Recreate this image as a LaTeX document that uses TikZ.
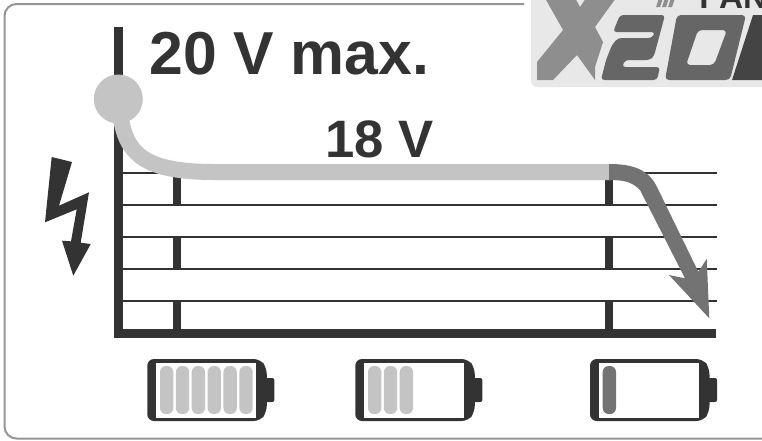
\documentclass[tikz,border=0pt]{standalone}
\usepackage{fontspec}
\setmainfont{Liberation Sans}
\definecolor{ink}{HTML}{333333}
\definecolor{lite}{HTML}{C4C4C4}
\definecolor{mid}{HTML}{737373}
\definecolor{frame}{HTML}{959595}
\definecolor{logobg}{HTML}{E8E8E8}
\definecolor{logox}{HTML}{8E8E8E}
\definecolor{logomid}{HTML}{666666}
\definecolor{logodark}{HTML}{444444}
\tikzset{
  grid line/.style={draw=ink,line width=1.9pt},
  axis line/.style={draw=ink,line width=6.6pt},
  tick line/.style={draw=ink,line width=6pt},
  big text/.style={font=\fontsize{45.5}{45.5}\selectfont\bfseries,text=ink,inner sep=0pt,anchor=base west},
}
\newcommand{\battery}[3]{%
  \begin{scope}[shift={(#1,0)}]
    \fill[ink,rounded corners=5pt] (0,359) -- (113,359) -- (119.5,368) -- (119.5,412) -- (113,421) -- (0,421) -- cycle;
    \fill[ink,rounded corners=1.5pt] (115,378) -- (127,378) -- (127,402) -- (115,402) -- cycle;
    \fill[white] (8.7,363) rectangle (108.7,418);
    \foreach \i in {1,...,#2}{
      \fill[#3,rounded corners=4.5pt] ({12.7+(\i-1)*15.87},366) rectangle ({26+(\i-1)*15.87},414);
    }
  \end{scope}}
\begin{document}
\begin{tikzpicture}[x=0.75pt,y=-0.75pt]
\useasboundingbox (0,0) rectangle (762,440);
\fill[white] (0,0) rectangle (762,440);
% frame
\draw[frame,line width=1.5pt,rounded corners=9pt] (524,4) -- (4.5,4) -- (4.5,438.5) -- (770,438.5);
% logo
\begin{scope}
  \clip (0,0) rectangle (762,440);
  \fill[logobg,rounded corners=5pt] (531,-12) rectangle (790,87);
  \fill[logox] (545,-2) -- (563,30) -- (537,62) -- (537,80) -- (553,80) -- (577,55) -- (595,80) -- (595,67) -- (603,42) -- (595,27) -- (616,-2) -- (586,-2) -- (580,7) -- (575,-2) -- cycle;
  \fill[logomid,rounded corners=2.5pt] (620,15) -- (665,15) -- (654,56) -- (650,60) -- (625,60) -- (622,67) -- (660,67) -- (657,80) -- (601,80) -- (606,60) -- (612,45) -- (618,38) -- (652,38) -- (655,32) -- (613,32) -- cycle;
  \fill[logomid,even odd rule,rounded corners=3pt] (677,15) -- (746,15) -- (730,80) -- (665,80) -- cycle (698,30) -- (727,30) -- (714,65) -- (686,65) -- cycle;
  \fill[logodark] (753,15) -- (790,15) -- (790,80) -- (732,80) -- cycle;
  \fill[logox] (659,-2) -- (663,-2) -- (660,7) -- (656,7) -- cycle (665,-2) -- (669,-2) -- (666,7) -- (662,7) -- cycle (671,-2) -- (675,-2) -- (672,7) -- (668,7) -- cycle;
  \node[anchor=base west,inner sep=0pt,text=ink,font=\fontsize{25}{25}\selectfont\bfseries] (brand) at (699,8) {PAN};
\end{scope}
% grid
\foreach \y/\n in {173/a,205/b,237/c,269/d,301/e}{
  \coordinate (gl\n) at (118,\y);
  \coordinate (gr\n) at (717,\y);
  \draw[grid line] (gl\n) -- (gr\n);
}
% ticks
\foreach \x in {177.3,609}{
  \draw[tick line] (\x,173) -- (\x,204);
  \draw[tick line] (\x,237) -- (\x,269);
  \draw[tick line] (\x,301) -- (\x,333);
}
% axes
\coordinate (axtop) at (118.7,27);
\coordinate (axorg) at (118.7,333.5);
\coordinate (axend) at (716,333.5);
\draw[axis line] (axtop) -- (118.7,338);
\draw[axis line] (114.3,333.5) -- (axend);
% texts
\node[big text] (maxlabel) at (149,74) {20 V max.};
\node[anchor=base west,inner sep=0pt,text=ink,font=\fontsize{39.5}{39.5}\selectfont\bfseries] (nomlabel) at (325,157) {18 V};
% curve light
\coordinate (dot) at (118.3,99);
\draw[lite,line width=12pt] (120,112) .. controls (125,155) and (145,172) .. (215,172) -- (611,172);
\fill[lite] (dot) circle[radius=24.5];
% dark arrow
\fill[mid] (609,164) .. controls (630,164) and (648,168) .. (657,187) -- (698.3,271.7) -- (706.7,259) -- (709.3,318.3) -- (669,275) -- (685,278.3) -- (640,190) .. controls (632,182) and (625,180) .. (609,180) -- cycle;
% bolt
\fill[ink] (72,162) -- (59,205.7) -- (89,192.3) -- (80.7,242.7) -- (90.7,244) -- (73.3,275.7) -- (62,240.7) -- (71,241.3) -- (76.7,209.3) -- (45,222.3) -- (51.7,157) -- cycle;
% batteries
\battery{147.3}{6}{lite}
\battery{355.3}{3}{lite}
\battery{590}{1}{mid}
\end{tikzpicture}
\end{document}
